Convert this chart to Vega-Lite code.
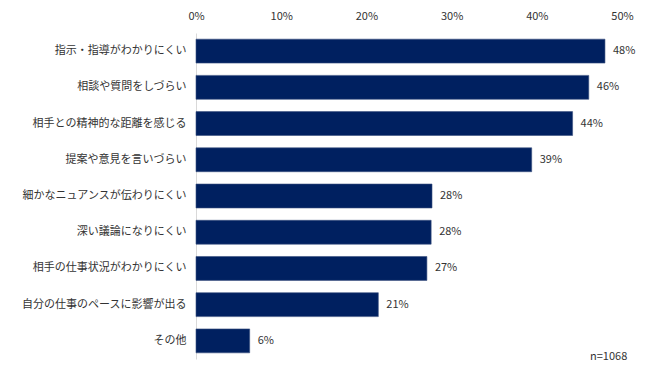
{
  "$schema": "https://vega.github.io/schema/vega-lite/v6.json",
  "width": 426,
  "height": 326,
  "autosize": {"type": "none"},
  "padding": {"left": 196, "top": 33, "right": 28, "bottom": 14},
  "background": "white",
  "config": {"view": {"stroke": null}, "font": "Noto Sans CJK JP"},
  "title": {"text": "n=1068", "orient": "bottom", "anchor": "end", "offset": -8, "dx": -8, "fontSize": 11, "fontWeight": "normal", "color": "#333333", "font": "Noto Sans CJK JP"},
  "data": {"values": [
    {"item": "指示・指導がわかりにくい", "pct": 48.0, "label": "48%"},
    {"item": "相談や質問をしづらい", "pct": 46.1, "label": "46%"},
    {"item": "相手との精神的な距離を感じる", "pct": 44.2, "label": "44%"},
    {"item": "提案や意見を言いづらい", "pct": 39.4, "label": "39%"},
    {"item": "細かなニュアンスが伝わりにくい", "pct": 27.7, "label": "28%"},
    {"item": "深い議論になりにくい", "pct": 27.6, "label": "28%"},
    {"item": "相手の仕事状況がわかりにくい", "pct": 27.1, "label": "27%"},
    {"item": "自分の仕事のペースに影響が出る", "pct": 21.4, "label": "21%"},
    {"item": "その他", "pct": 6.3, "label": "6%"}
  ]},
  "encoding": {
    "y": {"field": "item", "type": "nominal", "sort": null, "scale": {"paddingInner": 0.34, "paddingOuter": 0.17},
      "axis": {"title": null, "ticks": false, "domain": true, "domainColor": "#d9d9d9", "labelFontSize": 11, "labelColor": "#333333", "labelPadding": 10, "labelFont": "Noto Sans CJK JP", "labelLimit": 300}},
    "x": {"field": "pct", "type": "quantitative", "scale": {"domain": [0, 50]},
      "axis": {"orient": "top", "title": null, "values": [0, 10, 20, 30, 40, 50], "labelExpr": "datum.value + '%'", "labelFlush": false, "grid": false, "ticks": false, "domain": false, "labelFontSize": 11, "labelColor": "#333333", "labelPadding": 12, "labelFont": "Noto Sans CJK JP"}}
  },
  "layer": [
    {"mark": {"type": "bar", "color": "#002060", "stroke": "#3a5080", "strokeWidth": 0.6}},
    {"mark": {"type": "text", "align": "left", "dx": 8, "fontSize": 11, "color": "#333333", "font": "Noto Sans CJK JP"}, "encoding": {"text": {"field": "label"}}}
  ]
}
